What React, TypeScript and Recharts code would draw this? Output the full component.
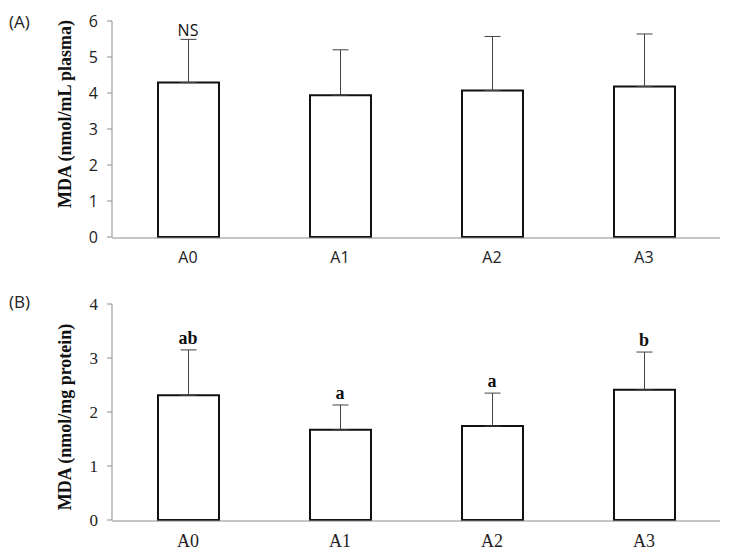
import React from 'react';
import { ComposedChart, Bar, Line, XAxis, YAxis, ErrorBar, LabelList } from 'recharts';

const categories = ['A0', 'A1', 'A2', 'A3'];
const plasmaMean = [4.29, 3.94, 4.07, 4.18];
const plasmaSD = [1.2, 1.26, 1.5, 1.46];
const plasmaSig = ['NS', '', '', ''];
const plasmaTicks = [0, 1, 2, 3, 4, 5, 6];

const proteinMean = [2.31, 1.67, 1.74, 2.41];
const proteinSD = [0.84, 0.46, 0.61, 0.7];
const proteinSig = ['ab', 'a', 'a', 'b'];
const proteinTicks = [0, 1, 2, 3, 4];

const boundaryTicks = [0, 1, 2, 3, 4];

const build = (mean: number[], sd: number[], sig: string[]) =>
  categories.map((c, i) => ({ cat: c, mean: mean[i], err: [0, sd[i]], top: mean[i] + sd[i], sig: sig[i] }));

const plasmaData = build(plasmaMean, plasmaSD, plasmaSig);
const proteinData = build(proteinMean, proteinSD, proteinSig);

const AXIS = '#8c8c8c';
const SANS = '"Open Sans", "Liberation Sans", sans-serif';
const SERIF = '"Liberation Serif", "Times New Roman", serif';

type PanelProps = {
  data: any[];
  ticks: number[];
  height: number;
  top: number;
  bottom: number;
  font: string;
  fontSize: number;
  xFontSize: number;
  sigFont: string;
  sigWeight: any;
  sigSize: number;
  sigOffset: number;
  xTickMargin: number;
};

const YW = 60;

function Panel(p: PanelProps) {
  return (
    <ComposedChart
      width={729}
      height={p.height}
      data={p.data}
      margin={{ top: p.top, right: 9, bottom: p.bottom, left: 112 - YW }}
    >
      <XAxis
        xAxisId="num"
        type="number"
        domain={[0, 4]}
        ticks={boundaryTicks}
        allowDataOverflow
        height={1}
        tick={false}
        tickSize={6}
        axisLine={{ stroke: AXIS, strokeWidth: 1 }}
        tickLine={{ stroke: AXIS, strokeWidth: 1 }}
      />
      <XAxis
        xAxisId="cat"
        dataKey="cat"
        height={1}
        axisLine={false}
        tickLine={false}
        tickSize={6}
        tickMargin={p.xTickMargin}
        interval={0}
        tick={{ fill: '#222', fontSize: p.xFontSize, fontFamily: p.font }}
      />
      <YAxis
        width={YW}
        domain={[0, p.ticks[p.ticks.length - 1]]}
        ticks={p.ticks}
        interval={0}
        tickSize={5}
        tickMargin={9}
        axisLine={{ stroke: AXIS, strokeWidth: 1 }}
        tickLine={{ stroke: AXIS, strokeWidth: 1 }}
        tick={{ fill: '#222', fontSize: p.fontSize, fontFamily: p.font }}
      />
      <Bar
        xAxisId="cat"
        dataKey="mean"
        barSize={61}
        fill="#ffffff"
        stroke="#111"
        strokeWidth={2}
        isAnimationActive={false}
      >
        <ErrorBar dataKey="err" width={8} stroke="#444" strokeWidth={1} direction="y" />
      </Bar>
      <Line
        xAxisId="cat"
        dataKey="top"
        stroke="none"
        dot={false}
        activeDot={false}
        isAnimationActive={false}
      >
        <LabelList
          dataKey="sig"
          position="top"
          offset={p.sigOffset}
          fill="#111"
          fontSize={p.sigSize}
          fontFamily={p.sigFont}
          fontWeight={p.sigWeight}
        />
      </Line>
    </ComposedChart>
  );
}

export default function App() {
  return (
    <div style={{ position: 'absolute', left: 0, top: 0, width: 729, height: 559, background: '#fff' }}>
      <div style={{ position: 'absolute', left: 0, top: 0 }}>
        <Panel
          data={plasmaData}
          ticks={plasmaTicks}
          height={280}
          top={21}
          bottom={41}
          font={SANS}
          fontSize={16}
          xFontSize={16}
          sigFont={SANS}
          sigWeight="normal"
          sigSize={16}
          sigOffset={3}
          xTickMargin={9}
        />
      </div>
      <div style={{ position: 'absolute', left: 0, top: 280 }}>
        <Panel
          data={proteinData}
          ticks={proteinTicks}
          height={279}
          top={24}
          bottom={37}
          font={SERIF}
          fontSize={17}
          xFontSize={18}
          sigFont={SERIF}
          sigWeight="bold"
          sigSize={18}
          sigOffset={6}
          xTickMargin={8}
        />
      </div>
      <svg width={729} height={559} style={{ position: 'absolute', left: 0, top: 0, pointerEvents: 'none' }}>
        <text x={9} y={28} fontFamily={SANS} fontSize={17} fill="#222">(A)</text>
        <text x={9} y={308} fontFamily={SANS} fontSize={17} fill="#222">(B)</text>
        <text
          x={65}
          y={114}
          transform="rotate(-90, 65, 114)"
          textAnchor="middle"
          dominantBaseline="central"
          fontFamily={SERIF}
          fontWeight="bold"
          fontSize={18}
          fill="#111"
        >
          MDA (nmol/mL plasma)
        </text>
        <text
          x={65}
          y={417}
          transform="rotate(-90, 65, 417)"
          textAnchor="middle"
          dominantBaseline="central"
          fontFamily={SERIF}
          fontWeight="bold"
          fontSize={18}
          fill="#111"
        >
          MDA (nmol/mg protein)
        </text>
      </svg>
    </div>
  );
}
